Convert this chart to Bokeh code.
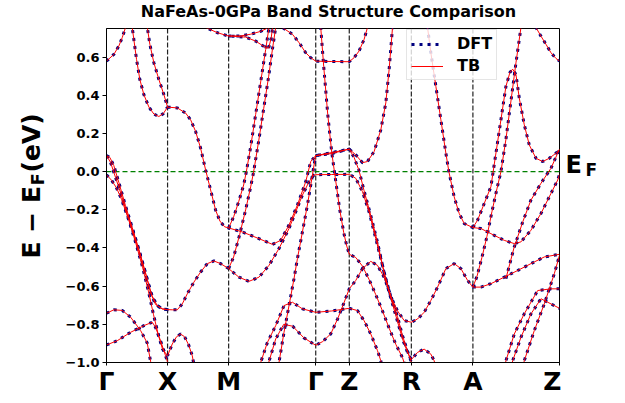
import math
from bokeh.plotting import figure
from bokeh.layouts import row, column
from bokeh.models import (Range1d, FixedTicker, CustomJSTickFormatter, Span, Label,
                          Legend, LegendItem)
from bokeh.embed import file_html
from bokeh.resources import INLINE

# high-symmetry path
k_ticks = [0.0, 0.61, 1.22, 2.09, 2.425, 3.045, 3.66, 4.525]
k_labels = ["Γ", "X", "M", "Γ", "Z", "R", "A", "Z"]
y_ticks = [-1.0, -0.8, -0.6, -0.4, -0.2, 0.0, 0.2, 0.4, 0.6]
title_text = "NaFeAs-0GPa Band Structure Comparison"

# bands (k, E-EF)
bA_k = [0, .073, .123, .157, .19, .20]
bA_e = [.579, .614, .658, .702, .755, .783]

bB1_k = [.25, .273, .30, .333, .373, .423, .473, .523, .567, .61]
bB1_e = [.783, .693, .588, .483, .404, .339, .302, .289, .304, .338]

bB2_k = [.40, .433, .473, .523, .573, .61]
bB2_e = [.783, .667, .571, .483, .404, .338]

bC_k = [.61, .707, .79, .84, .89, .94, .99, 1.04, 1.09, 1.133, 1.18, 1.22,
        1.357, 1.523, 1.657, 1.74, 1.823, 1.907, 1.99, 2.04, 2.09,
        2.25, 2.425, 2.49, 2.557, 2.607, 2.673, 2.74, 2.79, 2.823, 2.857, 2.865]
bC_e = [.338, .334, .307, .272, .211, .123, .009, -.096, -.202, -.259, -.289, -.295,
        -.316, -.351, -.381, -.36, -.28, -.175, -.053, .053, .084,
        .10, .118, .088, .047, .053, .105, .219, .36, .535, .755, .80]

bL1_k = [0, .04, .09, .14, .207, .273, .34, .407, .457, .507, .557, .61,
         .657, .707, .757, .807, .873, .94, 1.007, 1.073, 1.14, 1.22,
         1.323, 1.423, 1.523, 1.623, 1.723, 1.823, 1.89, 1.957, 2.023, 2.073, 2.09,
         2.25, 2.425, 2.49, 2.557, 2.623, 2.69, 2.757, 2.823, 2.89, 2.957, 3.007, 3.045,
         3.107, 3.173, 3.24, 3.273, 3.29]
bL1_e = [.084, .049, -.030, -.109, -.223, -.328, -.442, -.565, -.653, -.702, -.719, -.723,
         -.724, -.724, -.693, -.640, -.579, -.526, -.482, -.468, -.482, -.508,
         -.553, -.575, -.553, -.491, -.403, -.298, -.211, -.123, -.053, -.017, -.016,
         -.015, -.014, -.035, -.105, -.211, -.351, -.491, -.632, -.754, -.877, -.947, -.985,
         -.947, -.93, -.956, -.991, -1.03]

bL2_k = [0, .033, .073, .123, .19, .257, .323, .39, .44, .49, .557, .61]
bL2_e = [.084, .075, .032, -.056, -.179, -.293, -.407, -.530, -.635, -.696, -.719, -.723]

bL3_k = [0, .05, .10, .15, .22, .29, .36, .42, .47, .52, .56, .61,
         .657, .70, .74, .78, .82, .857, .88]
bL3_e = [-.016, -.045, -.085, -.145, -.25, -.37, -.50, -.63, -.75, -.86, -.93, -.965,
         -.903, -.865, -.851, -.865, -.907, -.965, -1.03]

bQ1_k = [0, .073, .157, .24, .34, .407, .44, .455]
bQ1_e = [-.742, -.724, -.727, -.762, -.832, -.898, -.993, -1.03]

bQ2_k = [0, .107, .24, .373, .457, .49, .54, .59, .607, .615]
bQ2_e = [-.908, -.886, -.842, -.807, -.789, -.816, -.886, -.965, -.993, -1.03]

bT1_k = [.90, .94, .973, 1.107, 1.217, 1.39, 1.49, 1.59, 1.62, 1.645, 1.665]
bT1_e = [.80, .777, .76, .728, .711, .705, .684, .65, .647, .70, .78]

bT1a_k = [1.217, 1.34, 1.44, 1.54, 1.60, 1.64]
bT1a_e = [.711, .711, .72, .735, .75, .78]

bSa_k = [1.22, 1.27, 1.32, 1.37, 1.397, 1.44, 1.49, 1.54, 1.59, 1.623, 1.635]
bSa_e = [-.295, -.237, -.158, -.07, 0.0, .13, .30, .47, .64, .755, .80]

bSc_k = [1.22, 1.27, 1.33, 1.39, 1.44, 1.47, 1.52, 1.57, 1.62, 1.66, 1.69, 1.70]
bSc_e = [-.508, -.447, -.33, -.20, -.08, 0.0, .16, .33, .50, .65, .755, .80]

bSb_k = [1.715, 1.723, 1.773, 1.823, 1.873, 1.907, 1.957, 2.007, 2.05, 2.075, 2.09,
         2.25, 2.425, 2.473, 2.523, 2.573, 2.64, 2.707, 2.773, 2.84, 2.907, 2.973, 3.045,
         3.107, 3.173, 3.24, 3.307, 3.39, 3.473, 3.54, 3.607, 3.66,
         3.74, 3.84, 3.973, 4.107, 4.24, 4.373, 4.525]
bSb_e = [-1.03, -1.0, -.842, -.702, -.561, -.456, -.316, -.175, -.04, .04, .084,
         .095, .118, .075, .005, -.10, -.23, -.37, -.53, -.655, -.73, -.78, -.789,
         -.772, -.737, -.675, -.605, -.508, -.482, -.508, -.57, -.605,
         -.605, -.587, -.553, -.518, -.482, -.447, -.433]

bF1_k = [1.53, 1.54, 1.607, 1.69, 1.773, 1.857, 1.957, 2.09, 2.25, 2.425,
         2.507, 2.573, 2.64, 2.707, 2.74, 2.755]
bF1_e = [-1.03, -1.0, -.895, -.807, -.702, -.684, -.719, -.737, -.73, -.716,
         -.728, -.781, -.851, -.938, -.991, -1.03]

bF2_k = [1.61, 1.62, 1.69, 1.77, 1.86, 1.97, 2.09, 2.16, 2.24, 2.31, 2.37, 2.425,
         2.49, 2.557, 2.64, 2.707, 2.773, 2.84, 2.907, 2.957, 3.007, 3.04, 3.06]
bF2_e = [-1.03, -1.0, -.877, -.80, -.81, -.87, -.91, -.89, -.85, -.77, -.69, -.614,
         -.57, -.508, -.47, -.491, -.553, -.65, -.76, -.86, -.94, -.991, -1.03]

bT3_k = [1.70, 1.757, 1.857, 1.923, 1.99, 2.04, 2.09, 2.25, 2.425,
         2.473, 2.523, 2.573, 2.607, 2.615]
bT3_e = [.78, .755, .72, .676, .623, .597, .579, .577, .576,
         .597, .632, .693, .755, .79]

bV1_k = [2.13, 2.14, 2.17, 2.21, 2.25, 2.29, 2.33, 2.37, 2.40, 2.425,
         2.49, 2.557, 2.623, 2.69, 2.757, 2.823, 2.89, 2.957, 2.99]
bV1_e = [.80, .755, .55, .30, .10, -.05, -.20, -.32, -.39, -.433,
         -.45, -.495, -.565, -.645, -.73, -.82, -.905, -.975, -1.03]

bU_k = [3.195, 3.207, 3.24, 3.29, 3.34, 3.39, 3.42, 3.473, 3.523, 3.573, 3.66,
        3.74, 3.84, 3.973, 4.073, 4.14, 4.24, 4.34, 4.44, 4.507, 4.525]
bU_e = [.80, .755, .623, .447, .272, .097, 0.0, -.132, -.219, -.272, -.293,
        -.298, -.325, -.36, -.377, -.368, -.307, -.219, -.114, -.044, -.014]

bP_k = [3.66, 3.707, 3.773, 3.84, 3.88, 3.94, 3.99, 4.03, 4.057, 4.09, 4.123,
        4.173, 4.223, 4.29, 4.357, 4.423, 4.49, 4.525]
bP_e = [-.293, -.254, -.167, -.079, .062, .272, .447, .52, .537, .509, .386,
        .246, .140, .070, .053, .070, .097, .114]

bG_k = [3.66, 3.70, 3.75, 3.80, 3.85, 3.90, 3.94, 3.99, 4.04, 4.09, 4.14, 4.15]
bG_e = [-.605, -.55, -.45, -.34, -.21, -.09, 0.0, .17, .37, .57, .755, .80]

bAZ_k = [4.28, 4.29, 4.34, 4.39, 4.44, 4.49, 4.525]
bAZ_e = [.80, .755, .71, .667, .623, .593, .579]

bY1_k = [3.99, 4.07, 4.16, 4.24, 4.34, 4.44, 4.525]
bY1_e = [-.56, -.40, -.26, -.149, -.061, .018, .118]

bBR1_k = [3.975, 3.99, 4.073, 4.173, 4.307, 4.44, 4.525]
bBR1_e = [-1.03, -.991, -.851, -.745, -.623, -.614, -.614]

bBR2_k = [4.045, 4.057, 4.14, 4.24, 4.34, 4.44, 4.525]
bBR2_e = [-1.03, -.991, -.868, -.745, -.666, -.693, -.716]

bBR3_k = [4.16, 4.173, 4.273, 4.373, 4.473, 4.525]
bBR3_e = [-1.03, -.991, -.833, -.693, -.535, -.438]

bands = [(bA_k, bA_e), (bB1_k, bB1_e), (bB2_k, bB2_e), (bC_k, bC_e),
         (bL1_k, bL1_e), (bL2_k, bL2_e), (bL3_k, bL3_e), (bQ1_k, bQ1_e),
         (bQ2_k, bQ2_e), (bT1_k, bT1_e), (bT1a_k, bT1a_e), (bSa_k, bSa_e),
         (bSc_k, bSc_e), (bSb_k, bSb_e), (bF1_k, bF1_e), (bF2_k, bF2_e),
         (bT3_k, bT3_e), (bV1_k, bV1_e), (bU_k, bU_e), (bP_k, bP_e),
         (bG_k, bG_e), (bAZ_k, bAZ_e), (bY1_k, bY1_e), (bBR1_k, bBR1_e),
         (bBR2_k, bBR2_e), (bBR3_k, bBR3_e)]

xs = [list(b[0]) for b in bands]
ys = [list(b[1]) for b in bands]

FONT = "DejaVu Sans"


def text_fig(width, height):
    f = figure(width=width, height=height, output_backend="svg", toolbar_location=None,
               x_range=Range1d(0, 1), y_range=Range1d(0, 1),
               x_axis_location=None, y_axis_location=None, min_border=0)
    f.outline_line_color = None
    f.background_fill_color = "white"
    f.border_fill_color = "white"
    f.xgrid.visible = False
    f.ygrid.visible = False
    return f


def lab(f, x, y, text, size, angle=0.0, align="left"):
    f.add_layout(Label(x=x, y=y, x_units="screen", y_units="screen", angle=angle,
                       text=text, text_align=align, text_baseline="alphabetic",
                       text_font=FONT, text_font_style="bold", text_font_size=size,
                       text_color="black"))


# ---- main plot ----
p = figure(width=501, height=376, output_backend="svg", toolbar_location=None,
           x_range=Range1d(k_ticks[0], k_ticks[-1]), y_range=Range1d(-1.0, 0.75),
           min_border_left=46, min_border_right=2, min_border_top=2, min_border_bottom=40)
p.background_fill_color = "white"
p.border_fill_color = "white"
p.outline_line_color = "black"
p.outline_line_width = 1
p.xgrid.visible = False
p.ygrid.visible = False

for kv in k_ticks[1:-1]:
    p.add_layout(Span(location=kv, dimension="height", line_color="#222222",
                      line_dash="5 2", line_width=1.2, level="underlay"))
p.add_layout(Span(location=0.0, dimension="width", line_color="#008000",
                  line_dash="5 3", line_width=1.2, level="underlay"))

r_dft = p.multi_line(xs, ys, line_color="navy", line_width=3, line_dash="3 5")
r_tb = p.multi_line(xs, ys, line_color="red", line_width=1)

p.xaxis.ticker = FixedTicker(ticks=k_ticks)
p.xaxis.major_label_overrides = {kv: lb for kv, lb in zip(k_ticks, k_labels)}
p.xaxis.major_label_text_font = FONT
p.xaxis.major_label_text_font_style = "bold"
p.xaxis.major_label_text_font_size = "25px"
p.xaxis.major_label_text_color = "black"
p.xaxis.major_tick_out = 3
p.xaxis.major_tick_in = 0
p.xaxis.major_label_standoff = 1
p.xaxis.axis_line_color = "black"

p.yaxis.ticker = FixedTicker(ticks=y_ticks)
p.yaxis.formatter = CustomJSTickFormatter(code="return tick.toFixed(1).replace('-', '\u2212');")
p.yaxis.major_label_text_font = FONT
p.yaxis.major_label_text_font_style = "bold"
p.yaxis.major_label_text_font_size = "13px"
p.yaxis.major_label_text_color = "black"
p.yaxis.major_tick_out = 4
p.yaxis.major_tick_in = 0
p.yaxis.major_label_standoff = 3
p.yaxis.axis_line_color = "black"

legend = Legend(items=[LegendItem(label="DFT", renderers=[r_dft]),
                       LegendItem(label="TB", renderers=[r_tb])],
                location=(300, 282))
legend.label_text_font = FONT
legend.label_text_font_style = "bold"
legend.label_text_font_size = "16px"
legend.label_text_color = "black"
legend.glyph_width = 32
legend.glyph_height = 18
legend.label_height = 18
legend.label_standoff = 14
legend.padding = 4
legend.spacing = 3
legend.margin = 0
legend.border_line_color = "#cccccc"
legend.border_line_width = 1
legend.background_fill_alpha = 0.8
p.add_layout(legend)

# ---- title strip ----
t = text_fig(624, 26)
lab(t, 328, 15, title_text, "16px", align="center")

# ---- y label strip ----
lf = text_fig(60, 376)
ang = math.pi / 2
lab(lf, 31, 104, "E − E", "25px", angle=ang)
lab(lf, 36.6, 177, "F", "18px", angle=ang)
lab(lf, 31, 190, "(eV)", "25px", angle=ang)

# ---- E_F strip ----
rf = text_fig(63, 376)
lab(rf, 4, 198, "E", "24px")
lab(rf, 24, 192.6, "F", "17px")

layout = column(t, row(lf, p, rf))
open("out.html", "w").write(file_html(layout, INLINE))
